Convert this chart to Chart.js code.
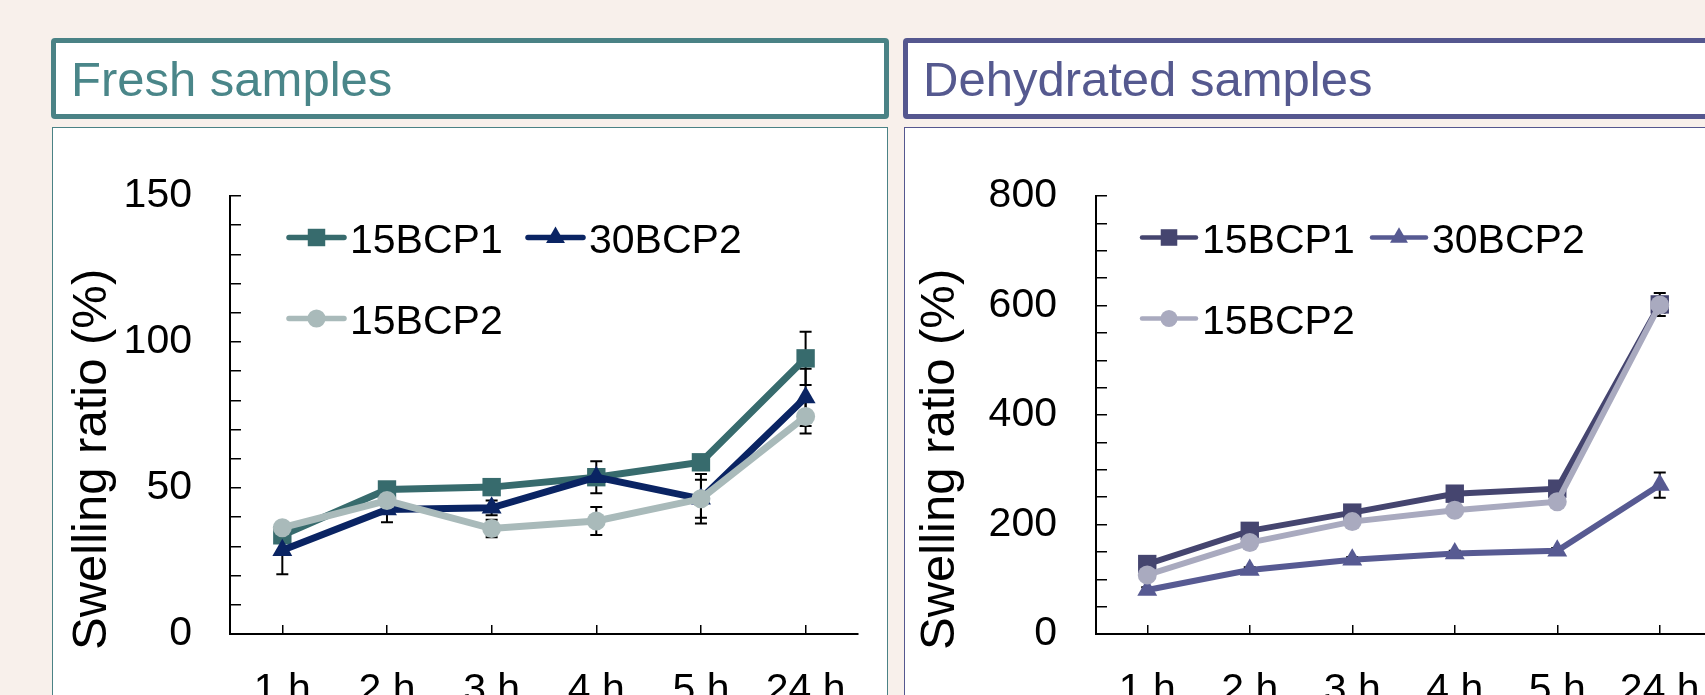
<!DOCTYPE html>
<html>
<head>
<meta charset="utf-8">
<title>Swelling ratio</title>
<script src="https://cdn.jsdelivr.net/npm/chart.js@4.4.0/dist/chart.umd.min.js"></script>
<style>
    html, body { margin: 0; padding: 0; }
    body {
        width: 1705px; height: 695px; overflow: hidden; position: relative;
        background: #f8f0eb;
        font-family: 'Liberation Sans', Arial, sans-serif;
    }
    .head {
        position: absolute; top: 38px; height: 81px; box-sizing: border-box;
        border: 5px solid; border-radius: 4px; background: #fff;
        font-size: 49px; line-height: 71px; padding-left: 15px; padding-top: 1px;
        white-space: nowrap;
    }
    .frame {
        position: absolute; top: 127px; height: 700px; box-sizing: border-box;
        border: 1.5px solid; background: #fff;
    }
    canvas { position: absolute; top: 114px; }
    #fresh-head { left: 51px; width: 838px; border-color: #4a8285; color: #4a8689; }
    #dehyd-head { left: 903px; width: 900px; border-color: #55578f; color: #55598f; }
    #fresh-frame { left: 52px; width: 836px; border-color: #4a8285; }
    #dehyd-frame { left: 904px; width: 900px; border-color: #55578f; }
    #fresh-chart { left: 52px; }
    #dehyd-chart { left: 906px; }
</style>
</head>
<body>
<div class="head" id="fresh-head">Fresh samples</div>
<div class="head" id="dehyd-head">Dehydrated samples</div>
<div class="frame" id="fresh-frame"></div>
<div class="frame" id="dehyd-frame"></div>
<canvas id="fresh-chart" width="837" height="600"></canvas>
<canvas id="dehyd-chart" width="900" height="600"></canvas>

<script>
// Categories and series names
const hours = ['1 h', '2 h', '3 h', '4 h', '5 h', '24 h'];
const seriesNames = ['15BCP1', '30BCP2', '15BCP2'];

// Fresh samples (%)
const fresh15BCP1 = [33.8, 49.5, 50.3, 53.7, 58.8, 94.4];
const fresh15BCP1Err = [2, 2, 2, 2, 2, 9.1];
const fresh30BCP2 = [28.7, 42.6, 43.2, 53.7, 46.3, 81.0];
const fresh30BCP2Err = [8.2, 4.3, 2.5, 5.5, 8.5, 9.8];
const fresh15BCP2 = [36.4, 45.7, 36.1, 38.7, 46.3, 74.5];
const fresh15BCP2Err = [1.5, 2, 3, 4.8, 6.5, 5.8];

// Dehydrated samples (%)
const dehyd15BCP1 = [127.8, 188.4, 221.7, 256.3, 265.4, 602];
const dehyd15BCP1Err = [6, 6, 6, 6, 6, 21];
const dehyd30BCP2 = [80.4, 117, 135.6, 147, 152, 272];
const dehyd30BCP2Err = [5, 5, 5, 5, 5, 23];
const dehyd15BCP2 = [107.8, 167, 205.3, 226, 241.7, 601];
const dehyd15BCP2Err = [5, 6, 6, 6, 6, 14];

// Y tick labels (minor ticks in between carry no label)
const freshYLabels = [0, 50, 100, 150];
const dehydYLabels = [0, 200, 400, 600, 800];

const FONT = "'Liberation Sans', Arial, sans-serif";
const pointStyles = ['rect', 'triangle', 'circle'];
const pointRadii = [13, 11.5, 9.5];
const drawOrder = [3, 2, 1]; // 15BCP2 on top

// Draw a legend marker the same way Chart.js shapes its points
function drawMarker(ctx, style, x, y, r) {
    ctx.beginPath();
    if (style === 'rect') {
        const s = r * Math.SQRT1_2;
        ctx.rect(x - s, y - s, 2 * s, 2 * s);
    } else if (style === 'triangle') {
        let a = 0;
        ctx.moveTo(x + Math.sin(a) * r, y - Math.cos(a) * r);
        a += 2 * Math.PI / 3;
        ctx.lineTo(x + Math.sin(a) * r, y - Math.cos(a) * r);
        a += 2 * Math.PI / 3;
        ctx.lineTo(x + Math.sin(a) * r, y - Math.cos(a) * r);
        ctx.closePath();
    } else {
        ctx.arc(x, y, r, 0, Math.PI * 2);
    }
    ctx.fill();
}

function buildChart(canvasId, p) {
    const datasets = p.series.map((s, k) => ({
        label: seriesNames[k],
        data: s.values,
        errors: s.errors,
        borderColor: p.colors[k],
        backgroundColor: p.colors[k],
        pointBackgroundColor: p.colors[k],
        pointBorderWidth: 0,
        pointStyle: pointStyles[k],
        pointRadius: pointRadii[k],
        pointHoverRadius: pointRadii[k],
        borderWidth: p.lineWidth,
        order: drawOrder[k],
        tension: 0,
        clip: false
    }));

    // Error bars under the markers
    const errorBars = {
        id: 'errorBars',
        beforeDatasetsDraw(chart) {
            const { ctx, scales } = chart;
            ctx.save();
            ctx.strokeStyle = '#000';
            ctx.lineWidth = 2;
            chart.data.datasets.forEach(ds => {
                ds.data.forEach((v, i) => {
                    const e = ds.errors[i];
                    const x = scales.x.getPixelForValue(i);
                    const yTop = scales.y.getPixelForValue(v + e);
                    const yBot = scales.y.getPixelForValue(v - e);
                    ctx.beginPath();
                    ctx.moveTo(x, yTop); ctx.lineTo(x, yBot);
                    ctx.moveTo(x - 6, yTop); ctx.lineTo(x + 6, yTop);
                    ctx.moveTo(x - 6, yBot); ctx.lineTo(x + 6, yBot);
                    ctx.stroke();
                });
            });
            ctx.restore();
        }
    };

    // Excel-like legend: line + marker + label, placed inside the plot
    const lineLegend = {
        id: 'lineLegend',
        afterDraw(chart) {
            const { ctx, chartArea } = chart;
            ctx.save();
            ctx.font = `41px ${FONT}`;
            ctx.textBaseline = 'alphabetic';
            p.legendItems.forEach(item => {
                const ds = chart.data.datasets[item.index];
                const x = chartArea.left + item.x;
                const y = chartArea.top + item.y;
                ctx.strokeStyle = ds.borderColor;
                ctx.lineWidth = ds.borderWidth - 1.5;
                ctx.lineCap = 'round';
                ctx.beginPath();
                ctx.moveTo(x, y);
                ctx.lineTo(x + p.legendLine, y);
                ctx.stroke();
                ctx.fillStyle = ds.backgroundColor;
                drawMarker(ctx, ds.pointStyle, x + p.legendLine / 2, y, ds.pointRadius * p.legendMarker);
                ctx.fillStyle = '#000';
                ctx.fillText(ds.label, x + p.legendLine + 6, y + 15);
            });
            ctx.restore();
        }
    };

    // Rotated y axis title
    const yTitle = {
        id: 'yTitle',
        afterDraw(chart) {
            const ctx = chart.ctx;
            ctx.save();
            ctx.translate(p.titleX, p.titleY);
            ctx.rotate(-Math.PI / 2);
            ctx.font = `49px ${FONT}`;
            ctx.fillStyle = '#000';
            ctx.textAlign = 'left';
            ctx.textBaseline = 'middle';
            ctx.fillText('Swelling ratio (%)', 0, 0);
            ctx.restore();
        }
    };

    return new Chart(document.getElementById(canvasId), {
        type: 'line',
        data: { labels: hours, datasets: datasets },
        options: {
            responsive: false,
            animation: false,
            events: [],
            layout: { autoPadding: false, padding: { top: 82, right: p.padRight, bottom: 0, left: 0 } },
            plugins: { legend: { display: false }, tooltip: { enabled: false } },
            scales: {
                x: {
                    type: 'category',
                    offset: true,
                    grid: { offset: false, drawOnChartArea: false, drawTicks: true, tickLength: -9, color: '#000', lineWidth: 1.5 },
                    border: { display: true, color: '#000', width: 2 },
                    ticks: { color: '#000', font: { family: FONT, size: 41 }, padding: 41, autoSkip: false, maxRotation: 0 },
                    afterFit: s => { s.height = 80; }
                },
                y: {
                    min: 0,
                    max: p.yMax,
                    grid: { drawOnChartArea: false, drawTicks: true, tickLength: -11, color: '#000', lineWidth: 1.5 },
                    border: { display: true, color: '#000', width: 2 },
                    ticks: {
                        stepSize: p.yStep,
                        autoSkip: false,
                        color: '#000',
                        font: { family: FONT, size: 41 },
                        padding: p.yLabelPad,
                        callback: v => p.yLabels.includes(v) ? String(v) : ''
                    },
                    afterFit: s => { s.width = p.yWidth; }
                }
            }
        },
        plugins: [errorBars, lineLegend, yTitle]
    });
}

buildChart('fresh-chart', {
    series: [
        { values: fresh15BCP1, errors: fresh15BCP1Err },
        { values: fresh30BCP2, errors: fresh30BCP2Err },
        { values: fresh15BCP2, errors: fresh15BCP2Err }
    ],
    colors: ['#376b6d', '#0a2463', '#a9baba'],
    lineWidth: 7,
    yMax: 150, yStep: 10, yLabels: freshYLabels,
    yWidth: 178, yLabelPad: 49, padRight: 30,
    titleX: 40, titleY: 536,
    legendLine: 55, legendMarker: 0.95,
    legendItems: [
        { index: 0, x: 59, y: 41.5 },
        { index: 1, x: 298, y: 41.5 },
        { index: 2, x: 59, y: 122.5 }
    ]
});

buildChart('dehyd-chart', {
    series: [
        { values: dehyd15BCP1, errors: dehyd15BCP1Err },
        { values: dehyd30BCP2, errors: dehyd30BCP2Err },
        { values: dehyd15BCP2, errors: dehyd15BCP2Err }
    ],
    colors: ['#45456f', '#575a92', '#a9aabf'],
    lineWidth: 6,
    yMax: 800, yStep: 50, yLabels: dehydYLabels,
    yWidth: 190, yLabelPad: 50, padRight: 95,
    titleX: 34, titleY: 536,
    legendLine: 54, legendMarker: 0.9,
    legendItems: [
        { index: 0, x: 46, y: 41.5 },
        { index: 1, x: 276, y: 41.5 },
        { index: 2, x: 46, y: 122.5 }
    ]
});
</script>
</body>
</html>
